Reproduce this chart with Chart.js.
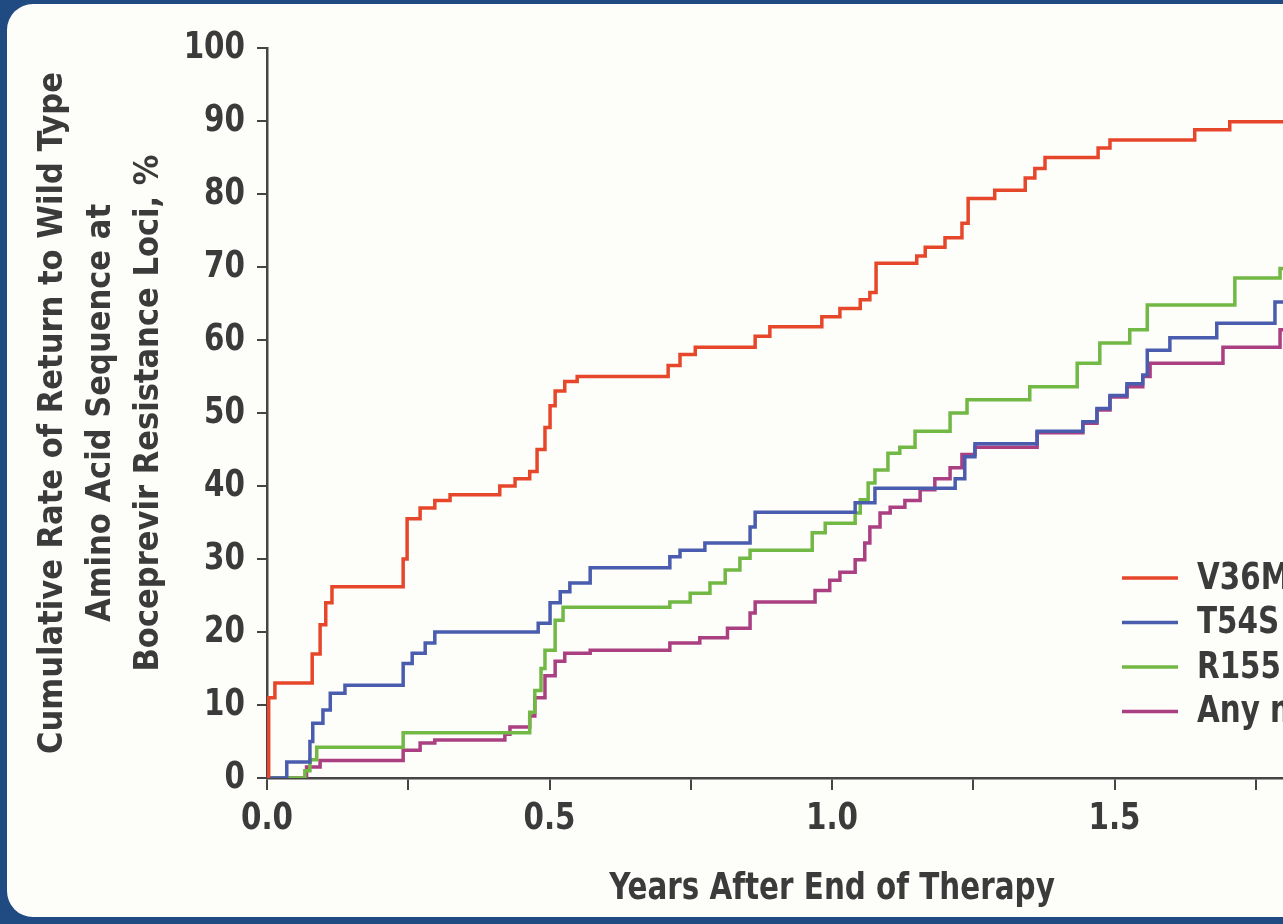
<!DOCTYPE html>
<html><head><meta charset="utf-8">
<script src="https://cdn.jsdelivr.net/npm/chart.js@4.4.1/dist/chart.umd.min.js"></script>
<style>
html,body{margin:0;padding:0;width:1283px;height:924px;overflow:hidden;background:#1f4b82;}
#panel{position:absolute;left:7px;top:4px;width:1420px;height:913px;background:#fdfdfa;border-radius:26px;}
#wrap{position:absolute;left:0;top:0;width:1440px;height:924px;}
</style></head><body>
<div id="panel"></div>
<div id="wrap"><canvas id="c" width="1440" height="924"></canvas></div>
<script>
// ---- data ----
const seriesLabels = ['V36M', 'T54S', 'R155K', 'Any mutation'];
const seriesColors = ['#e6472b', '#4a5cae', '#72b844', '#aa3f82'];

const v36mYears = [0, 0.003, 0.014, 0.080, 0.094, 0.104, 0.115, 0.241, 0.248, 0.271, 0.297, 0.324, 0.412, 0.439, 0.465, 0.478, 0.492, 0.501, 0.510, 0.527, 0.549, 0.710, 0.731, 0.758, 0.864, 0.890, 0.982, 1.014, 1.050, 1.067, 1.078, 1.150, 1.165, 1.200, 1.230, 1.241, 1.288, 1.342, 1.359, 1.377, 1.471, 1.492, 1.642, 1.704, 1.95];
const v36mRate  = [0, 11, 13, 17, 21, 24, 26.2, 30, 35.5, 37, 38, 38.8, 40, 41, 42, 45, 48, 51, 53, 54.3, 55, 56.5, 58, 59, 60.5, 61.8, 63.2, 64.3, 65.5, 66.5, 70.5, 71.5, 72.7, 74, 76, 79.4, 80.5, 82.2, 83.5, 85, 86.3, 87.4, 88.8, 89.9, 89.9];

const t54sYears = [0, 0.035, 0.076, 0.081, 0.099, 0.112, 0.138, 0.241, 0.257, 0.280, 0.297, 0.480, 0.501, 0.519, 0.536, 0.572, 0.713, 0.731, 0.775, 0.855, 0.864, 1.041, 1.076, 1.218, 1.235, 1.253, 1.363, 1.444, 1.469, 1.492, 1.522, 1.550, 1.558, 1.598, 1.681, 1.784, 1.95];
const t54sRate  = [0, 2.2, 5, 7.5, 9.3, 11.6, 12.7, 15.7, 17.1, 18.5, 20, 21.2, 24, 25.5, 26.7, 28.8, 30.3, 31.2, 32.2, 34.4, 36.4, 37.7, 39.7, 41, 44, 45.8, 47.5, 48.8, 50.6, 52.4, 54, 55.2, 58.6, 60.3, 62.3, 65.2, 65.2];

const r155Years = [0, 0.067, 0.076, 0.088, 0.241, 0.465, 0.474, 0.485, 0.492, 0.510, 0.524, 0.713, 0.749, 0.784, 0.811, 0.837, 0.855, 0.965, 0.988, 1.041, 1.050, 1.064, 1.076, 1.099, 1.120, 1.147, 1.209, 1.239, 1.350, 1.434, 1.474, 1.527, 1.558, 1.713, 1.793, 1.95];
const r155Rate  = [0, 1, 2.5, 4.2, 6.2, 9, 12, 15, 17.5, 21.6, 23.4, 24.1, 25.3, 26.7, 28.5, 30.1, 31.2, 33.6, 34.9, 36.3, 38.1, 40.4, 42.2, 44.5, 45.3, 47.5, 50, 51.8, 53.6, 56.8, 59.6, 61.4, 64.8, 68.5, 69.8, 69.8];

const anyYears = [0, 0.070, 0.094, 0.241, 0.271, 0.297, 0.421, 0.430, 0.465, 0.474, 0.492, 0.510, 0.527, 0.572, 0.713, 0.766, 0.815, 0.855, 0.864, 0.970, 0.996, 1.014, 1.041, 1.058, 1.067, 1.085, 1.103, 1.129, 1.156, 1.182, 1.209, 1.230, 1.253, 1.363, 1.444, 1.469, 1.492, 1.522, 1.550, 1.563, 1.692, 1.793, 1.95];
const anyRate  = [0, 1.5, 2.4, 3.8, 4.8, 5.2, 6, 7, 8.5, 11, 14, 16, 17.1, 17.5, 18.5, 19.2, 20.5, 22.6, 24.1, 25.7, 27.1, 28.2, 29.9, 32.2, 34.4, 36.3, 37.1, 38, 39.5, 41, 42.5, 44.3, 45.3, 47.3, 48.6, 50.4, 52.2, 53.6, 55, 56.8, 59, 61.4, 61.4];

const xTickValues = [0, 0.5, 1.0, 1.5, 2.0];
const xTickLabels = ['0.0', '0.5', '1.0', '1.5', '2.0'];
const yTitleLines = ['Cumulative Rate of Return to Wild Type', 'Amino Acid Sequence at', 'Boceprevir Resistance Loci, %'];
const xTitle = 'Years After End of Therapy';

// ---- build ----
const FONT = "'Liberation Sans Narrow', 'DejaVu Sans Condensed', sans-serif";
const TXT = '#3b3b3b';
const AX = '#454545';
const allYears = [v36mYears, t54sYears, r155Years, anyYears];
const allRates = [v36mRate, t54sRate, r155Rate, anyRate];

const datasets = seriesLabels.map((lab, i) => ({
  label: lab,
  data: allYears[i].map((x, k) => ({x: x, y: allRates[i][k]})),
  borderColor: seriesColors[i],
  backgroundColor: seriesColors[i],
  borderWidth: 3.5,
  stepped: true,
  pointRadius: 0,
  fill: false
}));

const canvas = document.getElementById('c');
const ctx2d = canvas.getContext('2d');
// narrower glyphs for the 38px labels, to imitate the condensed face of the original
const origFill = ctx2d.fillText.bind(ctx2d);
ctx2d.fillText = function (text, x, y, maxWidth) {
  const m = /(\d+(?:\.\d+)?)px/.exec(this.font);
  const size = m ? parseFloat(m[1]) : 0;
  const sx = size >= 37.5 ? 0.86 : 1;
  if (sx === 1) {
    return maxWidth === undefined ? origFill(text, x, y) : origFill(text, x, y, maxWidth);
  }
  this.save();
  this.translate(x, y);
  this.scale(sx, 1);
  if (maxWidth === undefined) origFill(text, 0, 0); else origFill(text, 0, 0, maxWidth / sx);
  this.restore();
};

const legendPlugin = {
  id: 'inlineLegend',
  afterDraw(chart) {
    const ctx = chart.ctx;
    ctx.save();
    ctx.font = 'bold 38px ' + FONT;
    ctx.textBaseline = 'middle';
    ctx.textAlign = 'left';
    chart.data.datasets.forEach((ds, i) => {
      const y = 578 + i * 44.5;
      ctx.strokeStyle = ds.borderColor;
      ctx.lineWidth = 3.5;
      ctx.beginPath();
      ctx.moveTo(1122, y);
      ctx.lineTo(1178, y);
      ctx.stroke();
      ctx.fillStyle = TXT;
      ctx.fillText(ds.label, 1197, y + 1);
    });
    ctx.restore();
  }
};

new Chart(ctx2d, {
  type: 'line',
  data: { datasets: datasets },
  options: {
    responsive: false,
    animation: false,
    devicePixelRatio: 1,
    layout: { padding: { left: 0, top: 48, right: 43, bottom: 0 } },
    plugins: { legend: { display: false }, tooltip: { enabled: false } },
    scales: {
      x: {
        type: 'linear', min: 0, max: 2.0,
        afterFit: (s) => { s.height = 146; },
        border: { display: true, color: AX, width: 2.5 },
        grid: { display: true, drawOnChartArea: false, drawTicks: true, tickLength: 12, color: AX, lineWidth: 2 },
        ticks: {
          stepSize: 0.25, autoSkip: false, maxRotation: 0, padding: 6,
          color: TXT, font: { family: FONT, size: 38, weight: 'bold' },
          callback: (v) => { const k = xTickValues.findIndex(t => Math.abs(t - v) < 1e-6); return k >= 0 ? xTickLabels[k] : ''; }
        },
        title: { display: true, text: xTitle, color: TXT, font: { family: FONT, size: 38, weight: 'bold' }, padding: { top: 0, bottom: 12 } }
      },
      y: {
        type: 'linear', min: 0, max: 100,
        afterFit: (s) => { s.width = 267; },
        border: { display: true, color: AX, width: 2.5 },
        grid: { display: true, drawOnChartArea: false, drawTicks: true, tickLength: 10, color: AX, lineWidth: 2 },
        ticks: { stepSize: 10, padding: 12, color: TXT, font: { family: FONT, size: 38, weight: 'bold' } },
        title: { display: true, text: yTitleLines, color: TXT, font: { family: FONT, size: 34, weight: 'bold', lineHeight: 1.41 }, padding: { top: 29, bottom: 0 } }
      }
    }
  },
  plugins: [legendPlugin]
});
</script>
</body></html>
